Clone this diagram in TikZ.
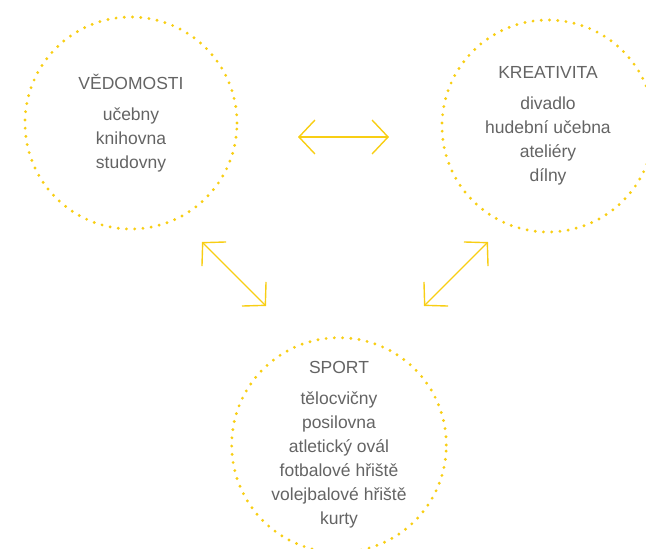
\documentclass[tikz,border=0pt]{standalone}
\usepackage{fontspec}
\setmainfont{Liberation Sans}
\usetikzlibrary{arrows.meta}
\definecolor{sunyellow}{RGB}{248,206,20}
\definecolor{textgray}{RGB}{100,100,100}
\begin{document}
\begin{tikzpicture}[x=1pt, y=-1pt,
    area node/.style={circle, draw=sunyellow, line width=3.2pt, line cap=round,
        dash pattern=on 0pt off 8.25pt, minimum size=212pt, inner sep=0pt,
        align=center, text=textgray, font=\fontsize{17.5}{24}\selectfont},
    link/.style={{Straight Barb[length=16pt,width=34pt]}-{Straight Barb[length=16pt,width=34pt]},
        draw=sunyellow, line width=1.4pt}]
    \useasboundingbox (0,0) rectangle (646,549);
    \node[area node] (ved) at (131,123) {V\v{E}DOMOSTI\\[7pt] u\v{c}ebny\\ knihovna\\ studovny};
    \node[area node] (kre) at (548,126) {KREATIVITA\\[7pt] divadlo\\ hudebn\'{\i} u\v{c}ebna\\ ateli\'{e}ry\\ d\'{\i}lny};
    \node[area node] (spo) at (339,445) {SPORT\\[7pt] t\v{e}locvi\v{c}ny\\ posilovna\\ atletick\'{y} ov\'{a}l\\ fotbalov\'{e} h\v{r}i\v{s}t\v{e}\\ volejbalov\'{e} h\v{r}i\v{s}t\v{e}\\ kurty};
    % arrow ends
    \coordinate (h1) at (298,137);
    \coordinate (h2) at (389,137);
    \coordinate (l1) at (202,242);
    \coordinate (l2) at (266,306);
    \coordinate (r1) at (424,306);
    \coordinate (r2) at (488,242);
    \draw[link] (h1) -- (h2);
    \draw[link] (l1) -- (l2);
    \draw[link] (r1) -- (r2);
\end{tikzpicture}
\end{document}
